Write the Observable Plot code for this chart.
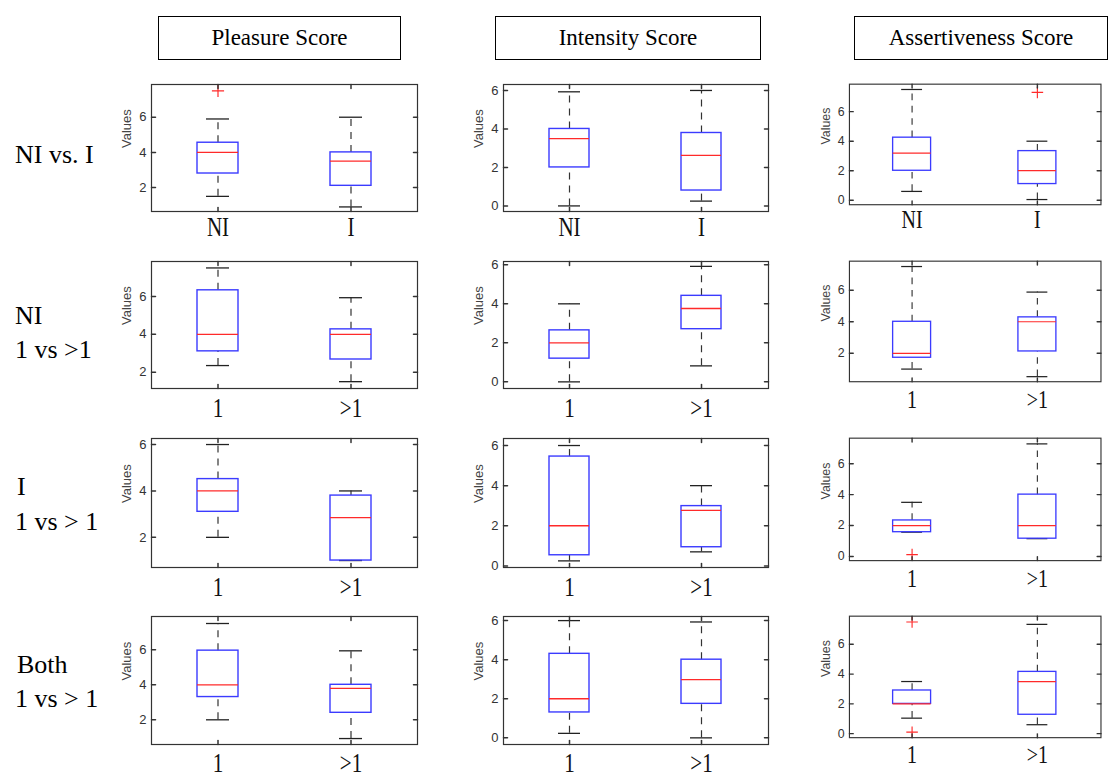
<!DOCTYPE html>
<html><head><meta charset="utf-8">
<script src="https://cdn.jsdelivr.net/npm/d3@7"></script>
<script src="https://cdn.jsdelivr.net/npm/@observablehq/plot@0.6"></script>
<style>
body{margin:0;background:#fff;}
#fig{position:relative;width:1110px;height:777px;overflow:hidden;font-family:"Liberation Serif","Times New Roman",serif;color:#000;}
.hdr{position:absolute;border:1.5px solid #000;box-sizing:border-box;display:flex;align-items:center;justify-content:center;font-size:23px;}
.rowlab{position:absolute;font-size:26px;line-height:30px;white-space:nowrap;transform:translateY(-50%);}
.panel{position:absolute;}
.panel svg{overflow:visible;}
</style></head><body><div id="fig"></div>
<script>
// ---------- data ----------
const colTitles = ["Pleasure Score", "Intensity Score", "Assertiveness Score"];
const rowLabels = [["NI vs. I"], ["NI", "1 vs >1"], ["I", "1 vs > 1"], ["Both", "1 vs > 1"]];
const groupLabels = [["NI", "I"], ["1", ">1"], ["1", ">1"], ["1", ">1"]];
// [row][column][group]
const whiskerLow = [
  [[1.5, 0.9], [0, 0.25], [0.6, 0.05]],
  [[2.35, 1.5], [0, 0.82], [1.0, 0.52]],
  [[2.0, 1.0], [0.25, 0.7], [1.57, 1.15]],
  [[2.0, 0.93], [0.23, 0], [1.04, 0.6]]
];
const quartile1 = [
  [[2.8, 2.1], [2.0, 0.8], [2.0, 1.1]],
  [[3.1, 2.67], [1.19, 2.7], [1.72, 2.12]],
  [[3.1, 1.0], [0.53, 0.93], [1.57, 1.15]],
  [[3.3, 2.4], [1.3, 1.74], [2.0, 1.27]]
];
const medians = [
  [[4.0, 3.5], [3.5, 2.63], [3.2, 2.0]],
  [[4.0, 4.0], [2.0, 3.76], [2.0, 4.0]],
  [[4.0, 2.85], [2.0, 2.77], [2.0, 2.0]],
  [[4.0, 3.8], [2.0, 2.98], [2.0, 3.5]]
];
const quartile3 = [
  [[4.55, 4.0], [4.0, 3.79], [4.24, 3.33]],
  [[6.32, 4.26], [2.64, 4.41], [4.0, 4.28]],
  [[4.51, 3.8], [5.45, 2.98], [2.33, 4.0]],
  [[5.95, 4.0], [4.3, 4.0], [2.9, 4.15]]
];
const whiskerHigh = [
  [[5.9, 6.0], [5.93, 6.0], [7.5, 4.0]],
  [[7.5, 5.93], [4.0, 5.92], [7.5, 5.88]],
  [[6.0, 4.0], [6.0, 4.0], [3.5, 7.28]],
  [[7.5, 5.94], [6.0, 5.93], [3.5, 7.34]]
];
const outliers = [
  [[[7.5], []], [[], []], [[], [7.3]]],
  [[[], []], [[], []], [[], []]],
  [[[], []], [[], []], [[0.12], []]],
  [[[], []], [[], []], [[7.5, 0.1], []]]
];
const yMin = [[0.64, -0.29, -0.3], [1.14, -0.34, 0.2], [0.7, -0.08, -0.27], [0.59, -0.34, -0.27]];
const yMax = [[7.86, 6.31, 7.86], [7.84, 6.17, 7.84], [6.26, 6.35, 7.65], [7.9, 6.21, 7.89]];
const yTickValues = [0, 2, 4, 6];

// ---------- layout ----------
const colLeft = [151, 503, 852];
const colWidth = [266, 265, 265];
const rowTop = [84, 261, 438, 616];
const rowHeight = [127, 127, 129, 128];
const xLabelPad = [5, 9, 9, 8];
const hdrBox = [[158, 401], [495, 761], [854, 1108]];
const rowLabelY = [[155], [316, 350], [487, 522], [665, 699]];
const rowLabelX = [[15], [15, 15], [17, 15], [17, 15]];
const mL = 60, mR = 10, mT = 6, mB = 45;

const fig = document.getElementById("fig");
const sans = "Liberation Sans, Arial, Helvetica, sans-serif";
const spike = {draw(ctx, l) { ctx.moveTo(0, 0); ctx.lineTo(0, -l); }};

colTitles.forEach((t, c) => {
  const d = document.createElement("div");
  d.className = "hdr";
  d.style.left = hdrBox[c][0] + "px";
  d.style.width = (hdrBox[c][1] - hdrBox[c][0]) + "px";
  d.style.top = "16px";
  d.style.height = "44px";
  d.textContent = t;
  fig.appendChild(d);
});

rowLabels.forEach((lines, r) => {
  lines.forEach((txt, k) => {
    const d = document.createElement("div");
    d.className = "rowlab";
    d.style.left = rowLabelX[r][k] + "px";
    d.style.top = rowLabelY[r][k] + "px";
    d.textContent = txt;
    fig.appendChild(d);
  });
});

function panel(r, c) {
  const labs = groupLabels[r];
  const rows = labs.map((g, i) => ({
    g, lo: whiskerLow[r][c][i], q1: quartile1[r][c][i], med: medians[r][c][i],
    q3: quartile3[r][c][i], hi: whiskerHigh[r][c][i]
  }));
  const outs = labs.flatMap((g, i) => outliers[r][c][i].map(v => ({g, v})));
  const ticks = yTickValues.filter(t => t >= yMin[r][c] && t <= yMax[r][c]);
  const W = colWidth[c], H = rowHeight[r];
  const svg = Plot.plot({
    width: W + mL + mR, height: H + mT + mB,
    marginLeft: mL, marginRight: mR, marginTop: mT, marginBottom: mB,
    style: {background: "transparent", overflow: "visible"},
    x: {type: "band", domain: labs, paddingInner: 0.695, paddingOuter: 0.3475, axis: null},
    y: {domain: [yMin[r][c], yMax[r][c]], axis: null},
    marks: [
      Plot.ruleX(rows, {x: "g", y1: "lo", y2: "q1", stroke: "#333", strokeWidth: 1.2, strokeDasharray: "7,6"}),
      Plot.ruleX(rows, {x: "g", y1: "q3", y2: "hi", stroke: "#333", strokeWidth: 1.2, strokeDasharray: "7,6"}),
      Plot.tickY(rows, {x: "g", y: "lo", insetLeft: 9, insetRight: 9, stroke: "#222", strokeWidth: 1.3}),
      Plot.tickY(rows, {x: "g", y: "hi", insetLeft: 9, insetRight: 9, stroke: "#222", strokeWidth: 1.3}),
      Plot.barY(rows, {x: "g", y1: "q1", y2: "q3", fill: "white", fillOpacity: 0, stroke: "#3b3bff", strokeWidth: 1.4}),
      Plot.tickY(rows, {x: "g", y: "med", stroke: "#ff2a2a", strokeWidth: 1.3}),
      Plot.dot(outs, {x: "g", y: "v", symbol: "plus", r: 4, stroke: "#ff2a2a", strokeWidth: 1.2}),
      Plot.frame({stroke: "#333", strokeWidth: 1.2}),
      Plot.vector(ticks, {y: d => d, frameAnchor: "left", rotate: 90, length: 4, anchor: "start", shape: spike, stroke: "#333"}),
      Plot.vector(ticks, {y: d => d, frameAnchor: "right", rotate: -90, length: 4, anchor: "start", shape: spike, stroke: "#333"}),
      Plot.vector(labs, {x: d => d, frameAnchor: "bottom", rotate: 0, length: 4, anchor: "start", shape: spike, stroke: "#333"}),
      Plot.vector(labs, {x: d => d, frameAnchor: "top", rotate: 180, length: 4, anchor: "start", shape: spike, stroke: "#333"}),
      Plot.axisY(ticks, {anchor: "left", tickSize: 0, tickPadding: 5, fontSize: 13, fontFamily: sans, fill: "#333", label: null}),
      Plot.text(["Values"], {frameAnchor: "left", dx: -25, rotate: -90, fontSize: 13, fontFamily: sans, fill: "#444"}),
      Plot.axisX(labs, {anchor: "bottom", tickSize: 0, tickPadding: xLabelPad[r], fontSize: 27, fontFamily: "Liberation Serif, Times New Roman, serif", fill: "#111", label: null})
    ]
  });
  // horizontally condensed serif tick labels, as in the original figure
  svg.querySelectorAll('g[aria-label="x-axis tick label"] text').forEach(t => {
    const tr = t.getAttribute("transform");
    if (tr) {
      t.setAttribute("transform", tr + " scale(0.78,1)");
    } else {
      const x = +(t.getAttribute("x") || 0), y = +(t.getAttribute("y") || 0);
      t.removeAttribute("x"); t.removeAttribute("y");
      t.setAttribute("transform", `translate(${x},${y}) scale(0.78,1)`);
    }
  });
  const d = document.createElement("div");
  d.className = "panel";
  d.style.left = (colLeft[c] - mL) + "px";
  d.style.top = (rowTop[r] - mT) + "px";
  d.appendChild(svg);
  fig.appendChild(d);
}

for (let r = 0; r < 4; r++) for (let c = 0; c < 3; c++) panel(r, c);
</script>
</body></html>
